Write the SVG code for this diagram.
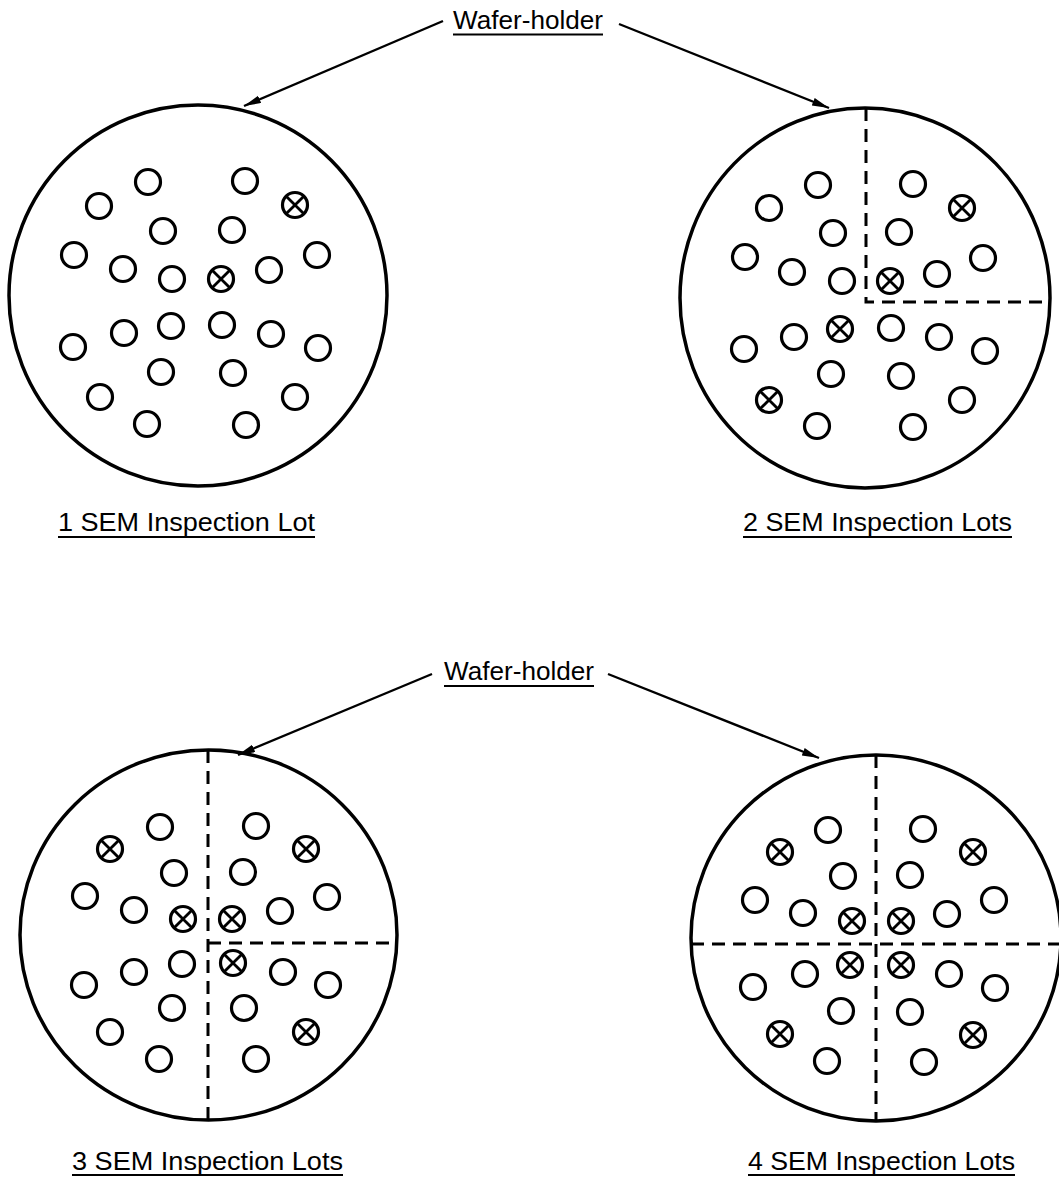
<svg xmlns="http://www.w3.org/2000/svg" xmlns:xlink="http://www.w3.org/1999/xlink" width="1059" height="1177" viewBox="0 0 1059 1177">
<style>
.wafer{fill:none;stroke:#000;stroke-width:3.5}
.div{fill:none;stroke:#000;stroke-width:3;stroke-dasharray:13 8}
.lbl{font-family:"Liberation Sans",Arial,sans-serif;font-size:25px;fill:#000}
.ul{stroke:#000;stroke-width:2.2}
.conn{stroke:#000;stroke-width:2.4;fill:none}
</style>
<defs>
<g id="o"><circle r="12.5" fill="#fff" stroke="#000" stroke-width="3.2"/></g>
<g id="x"><circle r="12.5" fill="#fff" stroke="#000" stroke-width="3.2"/><path d="M-8.8,-8.8L8.8,8.8M-8.8,8.8L8.8,-8.8" stroke="#000" stroke-width="2.8"/></g>
<marker id="ah" markerUnits="userSpaceOnUse" markerWidth="18" markerHeight="10" refX="17" refY="4" orient="auto"><path d="M0,0L17,4L0,8z" fill="#000"/></marker>
</defs>

<g id="label-top">
<text class="lbl" x="453" y="29" textLength="150" lengthAdjust="spacingAndGlyphs">Wafer-holder</text>
<line class="ul" x1="453" y1="34.5" x2="603" y2="34.5"/>
</g>
<g id="label-bottom">
<text class="lbl" x="444" y="680" textLength="150" lengthAdjust="spacingAndGlyphs">Wafer-holder</text>
<line class="ul" x1="444" y1="686" x2="594" y2="686"/>
</g>

<g id="connectors">
<line class="conn" x1="443" y1="21" x2="244" y2="106" marker-end="url(#ah)"/>
<line class="conn" x1="619" y1="24" x2="829" y2="108" marker-end="url(#ah)"/>
<line class="conn" x1="432" y1="674" x2="238" y2="755" marker-end="url(#ah)"/>
<line class="conn" x1="608" y1="674" x2="819" y2="758" marker-end="url(#ah)"/>
</g>

<g id="wafer1">
<ellipse class="wafer" cx="198" cy="295.5" rx="189" ry="190.5"/>
<use href="#o" x="148" y="182"/><use href="#o" x="245" y="181"/>
<use href="#o" x="99" y="206"/><use href="#x" x="295" y="205"/>
<use href="#o" x="163" y="231"/><use href="#o" x="232" y="230"/>
<use href="#o" x="74" y="255"/><use href="#o" x="317" y="255"/>
<use href="#o" x="123" y="269"/><use href="#o" x="172" y="279"/>
<use href="#x" x="221" y="279"/><use href="#o" x="269" y="270"/>
<use href="#o" x="124" y="333"/><use href="#o" x="171" y="326"/>
<use href="#o" x="222" y="325"/><use href="#o" x="271" y="334"/>
<use href="#o" x="73" y="347"/><use href="#o" x="318" y="348"/>
<use href="#o" x="161" y="372"/><use href="#o" x="233" y="373"/>
<use href="#o" x="100" y="397"/><use href="#o" x="295" y="397"/>
<use href="#o" x="147" y="424"/><use href="#o" x="246" y="425"/>
</g>
<g id="caption1">
<text class="lbl" x="58" y="531" textLength="257" lengthAdjust="spacingAndGlyphs">1 SEM Inspection Lot</text>
<line class="ul" x1="58" y1="537" x2="315" y2="537"/>
</g>

<g id="wafer2">
<ellipse class="wafer" cx="865" cy="298" rx="185" ry="190"/>
<path class="div" d="M866,108V302H1050"/>
<use href="#o" x="818" y="185"/><use href="#o" x="913" y="184"/>
<use href="#o" x="769" y="208"/><use href="#x" x="962" y="208"/>
<use href="#o" x="833" y="233"/><use href="#o" x="899" y="232"/>
<use href="#o" x="745" y="257"/><use href="#o" x="983" y="258"/>
<use href="#o" x="792" y="272"/><use href="#o" x="842" y="281"/>
<use href="#x" x="890" y="281"/><use href="#o" x="937" y="274"/>
<use href="#o" x="794" y="337"/><use href="#x" x="840" y="329"/>
<use href="#o" x="891" y="328"/><use href="#o" x="939" y="337"/>
<use href="#o" x="744" y="349"/><use href="#o" x="985" y="351"/>
<use href="#o" x="831" y="374"/><use href="#o" x="901" y="376"/>
<use href="#x" x="769" y="400"/><use href="#o" x="962" y="400"/>
<use href="#o" x="817" y="426"/><use href="#o" x="913" y="427"/>
</g>
<g id="caption2">
<text class="lbl" x="743" y="531" textLength="269" lengthAdjust="spacingAndGlyphs">2 SEM Inspection Lots</text>
<line class="ul" x1="743" y1="537" x2="1012" y2="537"/>
</g>

<g id="wafer3">
<ellipse class="wafer" cx="208.5" cy="935" rx="188.5" ry="185"/>
<path class="div" d="M208,750V1120M208,943H397"/>
<use href="#o" x="160" y="827"/><use href="#o" x="256" y="826"/>
<use href="#x" x="110" y="849"/><use href="#x" x="306" y="849"/>
<use href="#o" x="174" y="873"/><use href="#o" x="243" y="872"/>
<use href="#o" x="85" y="896"/><use href="#o" x="327" y="897"/>
<use href="#o" x="134" y="910"/><use href="#x" x="183" y="919"/>
<use href="#x" x="232" y="919"/><use href="#o" x="280" y="911"/>
<use href="#o" x="134" y="972"/><use href="#o" x="182" y="964"/>
<use href="#x" x="233" y="963"/><use href="#o" x="283" y="972"/>
<use href="#o" x="84" y="985"/><use href="#o" x="328" y="985"/>
<use href="#o" x="172" y="1008"/><use href="#o" x="244" y="1008"/>
<use href="#o" x="110" y="1032"/><use href="#x" x="306" y="1032"/>
<use href="#o" x="159" y="1059"/><use href="#o" x="256" y="1059"/>
</g>
<g id="caption3">
<text class="lbl" x="72" y="1170" textLength="271" lengthAdjust="spacingAndGlyphs">3 SEM Inspection Lots</text>
<line class="ul" x1="72" y1="1175" x2="343" y2="1175"/>
</g>

<g id="wafer4">
<ellipse class="wafer" cx="876" cy="938" rx="185" ry="183"/>
<path class="div" d="M876,755V1121M691,944H1061"/>
<use href="#o" x="828" y="830"/><use href="#o" x="923" y="829"/>
<use href="#x" x="780" y="852"/><use href="#x" x="973" y="852"/>
<use href="#o" x="843" y="876"/><use href="#o" x="910" y="875"/>
<use href="#o" x="755" y="900"/><use href="#o" x="994" y="900"/>
<use href="#o" x="803" y="913"/><use href="#x" x="852" y="921"/>
<use href="#x" x="901" y="921"/><use href="#o" x="947" y="914"/>
<use href="#o" x="805" y="974"/><use href="#x" x="850" y="965"/>
<use href="#x" x="901" y="965"/><use href="#o" x="949" y="974"/>
<use href="#o" x="753" y="987"/><use href="#o" x="995" y="988"/>
<use href="#o" x="841" y="1011"/><use href="#o" x="910" y="1012"/>
<use href="#x" x="780" y="1034"/><use href="#x" x="973" y="1035"/>
<use href="#o" x="827" y="1061"/><use href="#o" x="924" y="1062"/>
</g>
<g id="caption4">
<text class="lbl" x="748" y="1170" textLength="267" lengthAdjust="spacingAndGlyphs">4 SEM Inspection Lots</text>
<line class="ul" x1="748" y1="1175" x2="1015" y2="1175"/>
</g>
</svg>
